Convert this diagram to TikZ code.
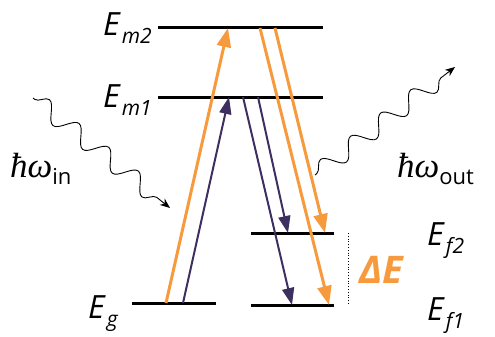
\documentclass[tikz,border=0pt]{standalone}
\usepackage{fontspec}
\setsansfont{Open Sans}
\newfontfamily\photfont{Liberation Serif}
\usetikzlibrary{arrows.meta,decorations.pathmorphing}
\definecolor{pump}{HTML}{F79A3E}
\definecolor{probe}{HTML}{3D2F5F}
\newcommand{\lvl}[1]{\textit{E}\kern1pt\raisebox{-8pt}{\fontsize{21}{23}\selectfont\textit{#1}}}
\newcommand{\phot}[1]{{\photfont\itshape ħω}\raisebox{-7pt}{\sffamily\fontsize{22}{24}\selectfont #1}}

\tikzset{
  level/.style={line width=3pt},
  lvllabel/.style={font=\sffamily\fontsize{32}{34}\selectfont, inner sep=0pt},
  photlabel/.style={font=\fontsize{35}{37}\selectfont, inner sep=0pt},
  uppump/.style={pump, line width=3pt, -{Triangle[length=19pt,width=14pt]}},
  upprobe/.style={probe, line width=2pt, -{Triangle[length=17pt,width=12pt]}},
  wave/.style={line width=0.9pt, -{Stealth[length=10pt,width=8pt]}, decorate,
    decoration={snake, amplitude=9pt, segment length=38pt, pre length=2pt, post length=10pt}}
}

\begin{document}
\begin{tikzpicture}[x=1pt,y=-1pt]
  \useasboundingbox (0,0) rectangle (495,337);

  % energy levels
  \coordinate (m2l) at (158,28);  \coordinate (m2r) at (323,28);
  \coordinate (m1l) at (158,97);  \coordinate (m1r) at (323,97);
  \coordinate (gl)  at (132,303); \coordinate (gr)  at (216,303);
  \coordinate (f2l) at (251,233); \coordinate (f2r) at (334,233);
  \coordinate (f1l) at (251,305); \coordinate (f1r) at (334,305);
  \draw[level] (m2l) -- (m2r);
  \draw[level] (m1l) -- (m1r);
  \draw[level] (gl) -- (gr);
  \draw[level] (f2l) -- (f2r);
  \draw[level] (f1l) -- (f1r);

  \node[lvllabel, anchor=base east] (em2) at (152,36) {\lvl{m2}};
  \node[lvllabel, anchor=base east] (em1) at (152,107) {\lvl{m1}};
  \node[lvllabel, anchor=base west] (eg)  at (88,318) {\lvl{g}};
  \node[lvllabel, anchor=base west] (ef2) at (427,245) {\lvl{f2}};
  \node[lvllabel, anchor=base west] (ef1) at (427,320) {\lvl{f1}};

  % excitation
  \coordinate (gA) at (166,303); \coordinate (m2A) at (228,28);
  \coordinate (gB) at (183,303); \coordinate (m1B) at (229,97);
  \draw[uppump] (gA) -- (m2A);
  \draw[upprobe] (gB) -- (m1B);

  % emission
  \coordinate (m2C) at (260,28); \coordinate (f1C) at (329,305);
  \coordinate (m2D) at (275,28); \coordinate (f2D) at (325,233);
  \coordinate (m1E) at (243,97); \coordinate (f1E) at (292,305);
  \coordinate (m1F) at (258,97); \coordinate (f2F) at (288,233);
  \draw[uppump] (m2C) -- (f1C);
  \draw[uppump] (m2D) -- (f2D);
  \draw[upprobe] (m1E) -- (f1E);
  \draw[upprobe] (m1F) -- (f2F);

  % splitting
  \coordinate (dtop) at (348,233); \coordinate (dbot) at (348,305);
  \draw[line width=0.8pt, dotted] (dtop) -- (dbot);
  \node[font=\sffamily\bfseries\itshape\fontsize{38}{40}\selectfont, text=pump, inner sep=0pt] (dE) at (381,270) {ΔE};

  % photons
  \coordinate (inS) at (33,98);   \coordinate (inE) at (170,208);
  \coordinate (outS) at (315,175); \coordinate (outE) at (455,67);
  \draw[wave] (inS) -- (inE);
  \draw[wave] (outS) -- (outE);
  \node[photlabel, anchor=base west] (win) at (10,177) {\phot{in}};
  \node[photlabel, anchor=base west] (wout) at (397,177) {\phot{out}};
\end{tikzpicture}
\end{document}
